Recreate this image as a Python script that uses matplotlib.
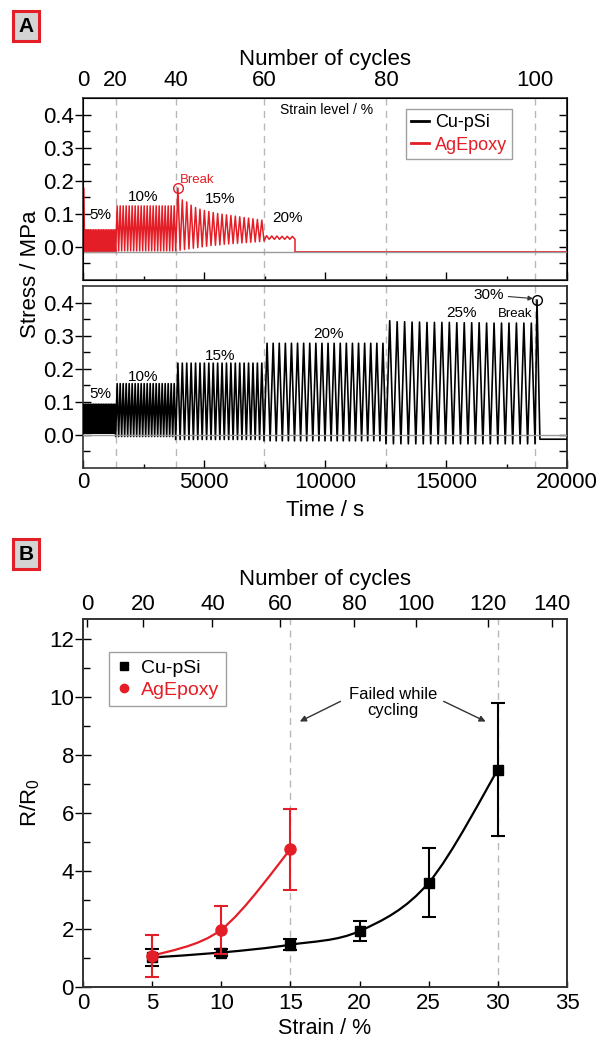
import matplotlib
matplotlib.use('Agg')
import matplotlib.pyplot as plt
from matplotlib.path import Path
from matplotlib.patches import PathPatch
import numpy as np

plt.rcParams['font.family'] = ['Liberation Sans', 'DejaVu Sans']
plt.rcParams['mathtext.default'] = 'regular'

RED = '#e41e26'
DASH = '#b8b8b8'

# ---------------- panel A data (stress vs time) ----------------
# time (s) where each strain level starts, and the matching cycle count
level_start_t = [0, 1350, 3830, 7480, 12520, 18680]
cycle_labels_A = [0, 20, 40, 60, 80, 100]

# Cu-pSi: peak / trough stress per cycle for 5,10,15,20,25 %
cu_peaks = [
    [0.093] * 20,
    [0.155] * 20,
    [0.217] * 20,
    [0.277] * 20,
    [0.345, 0.342, 0.342, 0.341, 0.341, 0.340, 0.340, 0.340, 0.340, 0.339,
     0.339, 0.339, 0.339, 0.338, 0.338, 0.338, 0.338, 0.338, 0.338, 0.338],
]
cu_troughs = [
    [0.005] * 21,
    [-0.005] * 21,
    [-0.014] * 21,
    [-0.018] * 21,
    [-0.027] * 21,
]
cu_break_t = [18760, 18880, 20000]
cu_break_y = [0.408, -0.013, -0.013]

# AgEpoxy: 5,10,15,20 % levels (broke during 15 %)
ag_peaks = [
    [0.178] + [0.052] * 19,
    [0.124] * 20,
    [0.178, 0.142, 0.136, 0.126, 0.119, 0.114, 0.110, 0.107, 0.104, 0.101,
     0.099, 0.097, 0.095, 0.093, 0.091, 0.089, 0.087, 0.085, 0.083, 0.081],
    [0.034, 0.033, 0.033, 0.032, 0.032, 0.032],
]
ag_troughs = [
    [-0.017] * 21,
    [-0.012] * 21,
    [-0.012, -0.010, -0.008, -0.006, -0.004, -0.002, 0.000, 0.002, 0.004, 0.005,
     0.006, 0.008, 0.009, 0.010, 0.011, 0.012, 0.013, 0.014, 0.015, 0.016, 0.018],
    [0.018, 0.023, 0.023, 0.023, 0.023, 0.023, 0.023],
]
ag_level_end = [1350, 3830, 7480, 8760]
ag_tail_t = [8760, 20000]
ag_tail_y = [-0.015, -0.015]

# ---------------- panel B data (R/R0 vs strain) ----------------
strain_cu = [5, 10, 15, 20, 25, 30]
rr_cu = [1.02, 1.19, 1.46, 1.93, 3.60, 7.50]
err_cu = [0.28, 0.13, 0.20, 0.35, 1.18, 2.30]
strain_ag = [5, 10, 15]
rr_ag = [1.07, 1.98, 4.75]
err_ag = [0.72, 0.83, 1.40]
cycle_labels_B = [0, 20, 40, 60, 80, 100, 120, 140]
cycle_strain_B = [0.3, 4.37, 9.36, 14.23, 19.6, 24.1, 29.3, 33.9]
failed_strain = [15, 30]


def zigzag(t0, t1, peaks, troughs):
    n = len(peaks)
    t = np.linspace(t0, t1, 2 * n + 1)
    y = np.empty(2 * n + 1)
    y[0::2] = troughs
    y[1::2] = peaks
    return t, y


def smooth_path(xs, ys):
    # Catmull-Rom curve through the points, drawn as cubic Bezier segments
    p = np.column_stack([xs, ys]).astype(float)
    ext = np.vstack([p[0], p, p[-1]])
    verts = [p[0]]
    codes = [Path.MOVETO]
    for i in range(len(p) - 1):
        p0, p1, p2, p3 = ext[i], ext[i + 1], ext[i + 2], ext[i + 3]
        verts += [p1 + (p2 - p0) / 6, p2 - (p3 - p1) / 6, p2]
        codes += [Path.CURVE4] * 3
    return Path(verts, codes)


fig = plt.figure(figsize=(6.01, 10.40), dpi=100)


def fx(px):
    return px / 601


def fy(py):
    return 1 - py / 1040


axA1 = fig.add_axes([fx(83), fy(280), 484 / 601, 182 / 1040])
axA2 = fig.add_axes([fx(83), fy(468), 484 / 601, 182 / 1040])
axB = fig.add_axes([fx(83), fy(987), 484 / 601, 368 / 1040])

# ---- top: AgEpoxy ----
tt, yy = [], []
for i in range(len(ag_peaks)):
    t, y = zigzag(level_start_t[i], ag_level_end[i], ag_peaks[i], ag_troughs[i])
    tt.append(t)
    yy.append(y)
tt.append(ag_tail_t)
yy.append(ag_tail_y)
axA1.plot(np.concatenate(tt), np.concatenate(yy), color=RED, lw=1.1, zorder=3)
axA1.axhline(-0.015, color='#9a9a9a', lw=1.0, zorder=4)

# ---- bottom: Cu-pSi ----
tt, yy = [], []
for i in range(len(cu_peaks)):
    t, y = zigzag(level_start_t[i], level_start_t[i + 1] if i + 1 < len(level_start_t) else 18680,
                  cu_peaks[i], cu_troughs[i])
    tt.append(t)
    yy.append(y)
tt.append(cu_break_t)
yy.append(cu_break_y)
axA2.plot(np.concatenate(tt), np.concatenate(yy), color='black', lw=1.2, zorder=3)
axA2.axhline(0, color='#9a9a9a', lw=1.0, zorder=4)

# legend handles in top panel
axA1.plot([], [], color='black', lw=2, label='Cu-pSi')
axA1.plot([], [], color=RED, lw=2, label='AgEpoxy')
leg = axA1.legend(loc='upper left', bbox_to_anchor=(0.667, 0.94), fontsize=13,
                  frameon=True, fancybox=False, edgecolor='#888888',
                  handlelength=1.0, handletextpad=0.3, borderpad=0.3,
                  labelspacing=0.3, borderaxespad=0)
for txt, c in zip(leg.get_texts(), ['black', RED]):
    txt.set_color(c)

for ax in (axA1, axA2):
    ax.set_xlim(0, 20000)
    ax.set_ylim(-0.1, 0.45)
    for t in level_start_t[1:]:
        ax.axvline(t, color=DASH, lw=1.0, ls=(0, (5, 4)), zorder=1)
    ax.set_yticks([0.0, 0.1, 0.2, 0.3, 0.4])
    ax.set_yticks([-0.05, 0.05, 0.15, 0.25, 0.35], minor=True)
    ax.set_yticklabels(['0.0', '0.1', '0.2', '0.3', '0.4'])
    ax.set_xticks([0, 5000, 10000, 15000, 20000])
    ax.set_xticks([2500, 7500, 12500, 17500], minor=True)
    ax.tick_params(axis='y', which='major', direction='inout', length=11, width=1,
                   labelsize=16, pad=1)
    ax.tick_params(axis='y', which='minor', direction='in', length=5, width=1)
    ax.tick_params(axis='x', which='major', direction='in', length=6, width=1,
                   labelsize=16, pad=3)
    ax.tick_params(axis='x', which='minor', direction='in', length=3, width=1)
    for s in ax.spines.values():
        s.set_linewidth(1.2)
        s.set_color('#333333')
    sec = ax.secondary_yaxis('right')
    sec.set_yticks([0.0, 0.1, 0.2, 0.3, 0.4])
    sec.set_yticks([-0.05, 0.05, 0.15, 0.25, 0.35], minor=True)
    sec.tick_params(which='both', direction='in', length=6, width=1, labelright=False)
    sec.spines['right'].set_linewidth(1.2)
    sec.spines['right'].set_color('#333333')

axA1.tick_params(axis='x', labelbottom=False)

topA = axA1.twiny()
topA.set_xlim(0, 20000)
topA.set_xticks(level_start_t)
topA.set_xticklabels([str(c) for c in cycle_labels_A])
topA.tick_params(axis='x', length=0, labelsize=16, pad=5)

# annotations top panel
axA1.text(700, 0.097, '5%', fontsize=11, ha='center', va='center')
axA1.text(2480, 0.151, '10%', fontsize=11, ha='center', va='center')
axA1.text(5660, 0.145, '15%', fontsize=11, ha='center', va='center')
axA1.text(8430, 0.088, '20%', fontsize=11, ha='center', va='center')
axA1.text(10080, 0.413, 'Strain level / %', fontsize=10, ha='center', va='center')
axA1.plot([3910], [0.178], 'o', mfc='none', mec=RED, ms=7, mew=1.0, zorder=5)
axA1.text(4000, 0.203, 'Break', fontsize=9.5, color=RED, ha='left', va='center')

# annotations bottom panel
axA2.text(700, 0.125, '5%', fontsize=11, ha='center', va='center')
axA2.text(2480, 0.176, '10%', fontsize=11, ha='center', va='center')
axA2.text(5660, 0.239, '15%', fontsize=11, ha='center', va='center')
axA2.text(10165, 0.305, '20%', fontsize=11, ha='center', va='center')
axA2.text(15660, 0.369, '25%', fontsize=11, ha='center', va='center')
axA2.text(17850, 0.366, 'Break', fontsize=9.5, ha='center', va='center')
axA2.plot([18760], [0.408], 'o', mfc='none', mec='black', ms=7, mew=1.0, zorder=5)
axA2.annotate('30%', xy=(18600, 0.412), xytext=(16775, 0.423), fontsize=11,
              ha='center', va='center',
              arrowprops=dict(arrowstyle='-|>', color='#333333', lw=0.8,
                              mutation_scale=7, shrinkA=1, shrinkB=0))

# ---- panel B ----
for s_ in failed_strain:
    axB.axvline(s_, color=DASH, lw=1.0, ls=(0, (5, 4)), zorder=1)

axB.add_patch(PathPatch(smooth_path(strain_cu, rr_cu), fc='none', ec='black', lw=1.6, zorder=3))
axB.add_patch(PathPatch(smooth_path(strain_ag, rr_ag), fc='none', ec=RED, lw=1.6, zorder=3))
axB.errorbar(strain_cu, rr_cu, yerr=err_cu, fmt='s', color='black', ms=7,
             capsize=5, elinewidth=1.5, capthick=1.5, label='Cu-pSi', zorder=4)
axB.errorbar(strain_ag, rr_ag, yerr=err_ag, fmt='o', color=RED, ms=8,
             capsize=5, elinewidth=1.5, capthick=1.5, label='AgEpoxy', zorder=5)

h, l = axB.get_legend_handles_labels()
legB = axB.legend([hh[0] for hh in h], l, loc='upper left', bbox_to_anchor=(0.054, 0.91),
                  fontsize=14, frameon=True, fancybox=False, edgecolor='#888888',
                  handlelength=0.8, handletextpad=0.5, borderpad=0.35,
                  labelspacing=0.25, borderaxespad=0, markerscale=0.75)
for txt, c in zip(legB.get_texts(), ['black', RED]):
    txt.set_color(c)

axB.text(22.4, 9.83, 'Failed while\ncycling', fontsize=12, ha='center', va='center',
         linespacing=1.1)
axB.annotate('', xy=(15.5, 9.12), xytext=(18.8, 9.9),
             arrowprops=dict(arrowstyle='-|>', color='#333333', lw=1.0, mutation_scale=9))
axB.annotate('', xy=(29.3, 9.12), xytext=(25.9, 9.9),
             arrowprops=dict(arrowstyle='-|>', color='#333333', lw=1.0, mutation_scale=9))

axB.set_xlim(0, 35)
axB.set_ylim(0, 12.7)
axB.set_xticks([0, 5, 10, 15, 20, 25, 30, 35])
axB.set_yticks([0, 2, 4, 6, 8, 10, 12])
axB.set_yticks([1, 3, 5, 7, 9, 11], minor=True)
axB.tick_params(axis='y', which='major', direction='inout', length=11, width=1,
                labelsize=16, pad=1)
axB.tick_params(axis='y', which='minor', direction='in', length=5, width=1)
axB.tick_params(axis='x', which='major', direction='in', length=4, width=1,
                labelsize=16, pad=4)
for s in axB.spines.values():
    s.set_linewidth(1.2)
    s.set_color('#333333')

topB = axB.twiny()
topB.set_xlim(0, 35)
topB.set_xticks(cycle_strain_B)
topB.set_xticklabels([str(c) for c in cycle_labels_B])
topB.tick_params(axis='x', direction='in', length=6, width=1, labelsize=16, pad=3)
for s in topB.spines.values():
    s.set_linewidth(1.2)
    s.set_color('#333333')

# axis titles
fig.text(fx(325), fy(60), 'Number of cycles', fontsize=16, ha='center', va='center')
fig.text(fx(30), fy(274), 'Stress / MPa', fontsize=16, ha='center', va='center', rotation=90)
fig.text(fx(325), fy(510), 'Time / s', fontsize=16, ha='center', va='center')
fig.text(fx(325), fy(579), 'Number of cycles', fontsize=16, ha='center', va='center')
fig.text(fx(30), fy(803), 'R/R$_0$', fontsize=16, ha='center', va='center', rotation=90)
fig.text(fx(325), fy(1028), 'Strain / %', fontsize=15.5, ha='center', va='center')

# panel letters
for letter, py in (('A', 26), ('B', 554)):
    fig.text(fx(26), fy(py), letter, fontsize=15, fontweight='bold', ha='center', va='center',
             bbox=dict(boxstyle='square,pad=0.25', fc='#d4d4d4', ec=RED, lw=2.2))

fig.savefig('out.png', dpi=100)
